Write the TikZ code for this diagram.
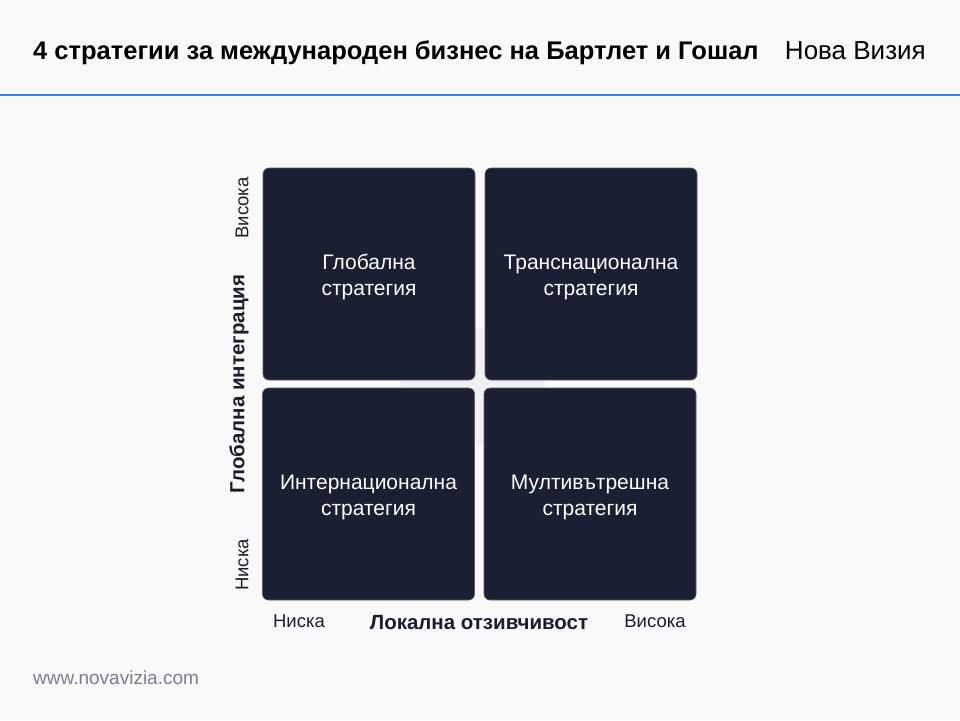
\documentclass[tikz,border=0pt]{standalone}
\usepackage{fontspec}
\setmainfont{Liberation Sans}
\usetikzlibrary{positioning}
\definecolor{bg}{HTML}{F9F9F9}
\definecolor{boxc}{HTML}{1B1F32}
\definecolor{boxline}{HTML}{5A5E6E}
\definecolor{blueline}{HTML}{3B82F6}
\definecolor{txt}{HTML}{1A1D2B}
\definecolor{foot}{HTML}{7B7E8E}
\definecolor{faint}{HTML}{F0F0F2}
\tikzset{
  cell/.style={draw=boxline, line width=0.6pt, fill=boxc, rounded corners=6pt,
    minimum width=212pt, minimum height=212pt, inner sep=0pt},
  celltext/.style={text=white, align=center, font=\fontsize{21}{26}\selectfont, inner sep=0pt},
  ticklab/.style={text=txt, font=\fontsize{18.5}{20}\selectfont, inner sep=0pt},
  axislab/.style={text=txt, font=\bfseries\fontsize{20.5}{24}\selectfont, inner sep=0pt},
}
\begin{document}
\begin{tikzpicture}[x=1pt,y=-1pt]
\fill[bg] (0,0) rectangle (960,720);
\useasboundingbox (0,0) rectangle (960,720);
% header
\node[anchor=base west, inner sep=0pt, text=black, font=\bfseries\fontsize{25.5}{30}\selectfont] (title) at (33,59) {4 стратегии за международен бизнес на Бартлет и Гошал};
\node[anchor=base east, inner sep=0pt, text=black, font=\fontsize{26}{30}\selectfont] (brand) at (926,59) {Нова Визия};
\draw[blueline, line width=2pt] (0,95) -- (960,95);
% faint background mark
\fill[faint, rounded corners=30pt] (401,328) rectangle (545,445);
% cells
\node[cell] (gl) at (369,274) {};
\node[cell] (tr) at (591,274) {};
\node[cell] (in) at (368.5,494) {};
\node[cell] (mu) at (590,494) {};
\node[celltext] (glt) at ([yshift=-3pt]gl.center) {Глобална\\стратегия};
\node[celltext] (trt) at ([yshift=-3pt]tr.center) {Транснационална\\стратегия};
\node[celltext] (int) at ([yshift=-3pt]in.center) {Интернационална\\стратегия};
\node[celltext] (mut) at ([yshift=-3pt]mu.center) {Мултивътрешна\\стратегия};
% y axis labels
\node[ticklab, rotate=90] (yhi) at (242,208) {Висока};
\node[ticklab, rotate=90] (ylo) at (242,565) {Ниска};
\node[axislab, rotate=90] (yax) at (239,384) {Глобална интеграция};
% x axis labels
\node[ticklab] (xlo) at (299,621) {Ниска};
\node[ticklab] (xhi) at (655,621) {Висока};
\node[axislab] (xax) at (479,623) {Локална отзивчивост};
% footer
\node[anchor=west, inner sep=0pt, text=foot, font=\fontsize{19}{21}\selectfont] (url) at (33,678) {www.novavizia.com};
\end{tikzpicture}
\end{document}
